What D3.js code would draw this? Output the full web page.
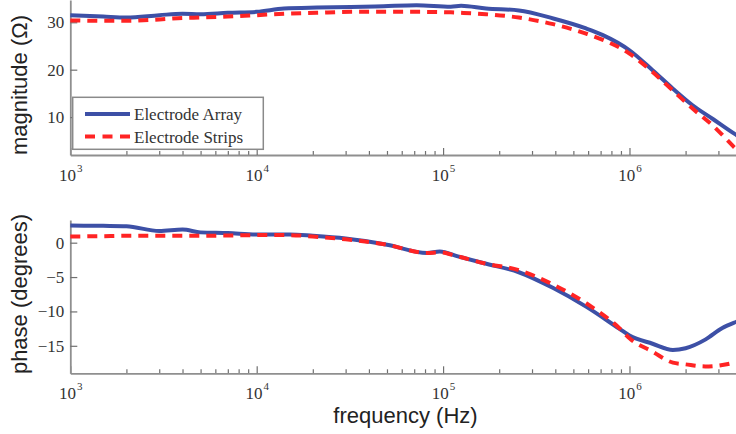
<!DOCTYPE html>
<html>
<head>
<meta charset="utf-8">
<script src="https://cdn.jsdelivr.net/npm/d3@7"></script>
<style>
  body { margin: 0; background: #fff; }
  .tick text { font-family: "Liberation Serif", serif; font-size: 17px; fill: #333; }
  .domain { stroke: #8f8f8f; stroke-width: 1.8; }
  .tick line { stroke: #707070; stroke-width: 1.2; }
  .axlabel { font-family: "Liberation Sans", Arial, sans-serif; font-size: 22px; fill: #222; }
  .legtext { font-family: "Liberation Serif", serif; font-size: 17px; fill: #333; }
</style>
</head>
<body>
<div id="chart"></div>
<script>
const WIDTH = 736;
const HEIGHT = 434;

// Magnitude data (ohm).
const magFreq    = [1e3, 1.5e3, 2e3, 3e3, 4e3, 5e3, 7e3, 1e4, 1.4e4, 2.1e4, 3.2e4, 4.8e4, 7.2e4, 1.1e5, 1.25e5, 1.7e5, 2.55e5, 3.9e5, 5.85e5, 7.2e5, 1e6, 1.33e6, 1.71e6, 2.18e6, 2.8e6, 3.65e6, 4e6];
const magArray   = [31.5, 31.2, 31.0, 31.5, 31.8, 31.7, 32.0, 32.2, 32.9, 33.1, 33.2, 33.4, 33.6, 33.3, 33.5, 32.9, 32.5, 30.8, 28.7, 27.3, 24.1, 19.9, 16.0, 12.5, 9.6, 6.5, 5.5];
const magStrips  = [30.4, 30.3, 30.3, 30.6, 30.9, 31.0, 31.2, 31.5, 31.8, 32.0, 32.2, 32.2, 32.2, 32.1, 32.0, 31.7, 31.0, 29.6, 27.6, 26.3, 23.4, 19.5, 15.6, 11.8, 8.2, 3.6, 2.0];

// Phase data (degrees).
const phFreq     = [1e3, 1.5e3, 2e3, 3e3, 4e3, 5e3, 7e3, 1e4, 1.5e4, 2e4, 3e4, 5e4, 8.2e4, 9.6e4, 1.2e5, 1.66e5, 2.55e5, 3.9e5, 5.85e5, 8.8e5, 1e6, 1.33e6, 1.71e6, 2e6, 2.55e6, 3.15e6, 3.75e6, 4e6];
const phArray    = [2.5, 2.45, 2.4, 1.7, 1.9, 1.5, 1.4, 1.2, 1.2, 1.0, 0.6, -0.3, -1.5, -1.3, -2.0, -3.0, -4.3, -6.6, -9.3, -12.5, -13.5, -14.7, -15.6, -15.35, -14.1, -12.4, -11.5, -11.2];
const phStrips   = [0.9, 0.95, 1.0, 1.0, 1.0, 1.0, 1.05, 1.1, 1.1, 0.9, 0.5, -0.3, -1.5, -1.4, -2.0, -3.0, -4.0, -6.1, -8.8, -12.4, -13.9, -15.85, -17.45, -17.7, -18.0, -17.8, -17.4, -17.3];

const magTicks = [10, 20, 30];
const phTicks = [0, -5, -10, -15];
const decades = [1e3, 1e4, 1e5, 1e6];
const seriesNames = ["Electrode Array", "Electrode Strips"];

const BLUE = "#3d50a6";
const RED = "#ff2424";

var svg = d3.select("#chart").append("svg")
    .attr("width", WIDTH)
    .attr("height", HEIGHT);

var x = d3.scaleLog().domain([1e3, 4e6]).range([70.3, 741.7]);

var minor = [];
for (var d = 1e3; d < 4e6; d *= 10) {
    for (var k = 2; k <= 9; k++) {
        if (d * k <= 4e6) minor.push(d * k);
    }
}

function drawPanel(yDomain, yRange, yTicks, freq, s1, s2, label) {
    var y = d3.scaleLinear().domain(yDomain).range(yRange);
    var g = svg.append("g");
    var bottom = yRange[0];

    // minor x ticks
    g.append("g")
        .attr("transform", "translate(0," + bottom + ")")
        .call(d3.axisBottom(x).tickValues(minor).tickSizeInner(-4).tickSizeOuter(0).tickFormat(""))
        .select(".domain").remove();

    // major x ticks with 10^n labels
    var xa = g.append("g")
        .attr("transform", "translate(0," + bottom + ")")
        .call(d3.axisBottom(x).tickValues(decades).tickSizeInner(-7).tickSizeOuter(0).tickFormat(""));
    xa.selectAll(".tick").append("text")
        .attr("y", 26)
        .attr("fill", "#333")
        .attr("text-anchor", "middle")
        .each(function (v) {
            var t = d3.select(this);
            t.append("tspan").text("10");
            t.append("tspan").attr("dy", -9).attr("dx", 1).style("font-size", "11px").text(Math.round(Math.log10(v)));
        });

    var ya = g.append("g")
        .attr("transform", "translate(70.3,0)")
        .call(d3.axisLeft(y).tickValues(yTicks).tickSizeInner(-7).tickSizeOuter(0).tickPadding(6));

    var line = d3.line()
        .x(function (d, i) { return x(freq[i]); })
        .y(function (d) { return y(d); })
        .curve(d3.curveMonotoneX);

    g.append("path")
        .datum(s1)
        .attr("d", line)
        .attr("fill", "none")
        .attr("stroke", BLUE)
        .attr("stroke-width", 4);

    g.append("path")
        .datum(s2)
        .attr("d", line)
        .attr("fill", "none")
        .attr("stroke", RED)
        .attr("stroke-width", 4)
        .attr("stroke-dasharray", "10,7");

    g.append("text")
        .attr("class", "axlabel")
        .attr("text-anchor", "middle")
        .attr("transform", "translate(27," + label.cy + ") rotate(-90)")
        .text(label.text);

    return g;
}

drawPanel([2, 34.7], [155, 0], magTicks, magFreq, magArray, magStrips, {text: "magnitude (\u03A9)", cy: 85});
drawPanel([-19, 3.3], [373.3, 220], phTicks, phFreq, phArray, phStrips, {text: "phase (degrees)", cy: 294});

svg.append("text")
    .attr("class", "axlabel")
    .attr("text-anchor", "middle")
    .attr("x", 405.5)
    .attr("y", 422.5)
    .text("frequency (Hz)");

// Legend
var leg = svg.append("g");
leg.append("rect")
    .attr("x", 72.7).attr("y", 97.3)
    .attr("width", 190.6).attr("height", 52)
    .attr("fill", "#fff")
    .attr("stroke", "#8a8a8a")
    .attr("stroke-width", 1.5);

seriesNames.forEach(function (name, i) {
    var yy = 114 + i * 22.5;
    leg.append("line")
        .attr("x1", 85).attr("x2", 130)
        .attr("y1", yy).attr("y2", yy)
        .attr("stroke", i == 0 ? BLUE : RED)
        .attr("stroke-width", 4)
        .attr("stroke-dasharray", i == 0 ? null : "10,7.5");
    leg.append("text")
        .attr("class", "legtext")
        .attr("x", 134)
        .attr("y", yy + 6)
        .text(name);
});
</script>
</body>
</html>
